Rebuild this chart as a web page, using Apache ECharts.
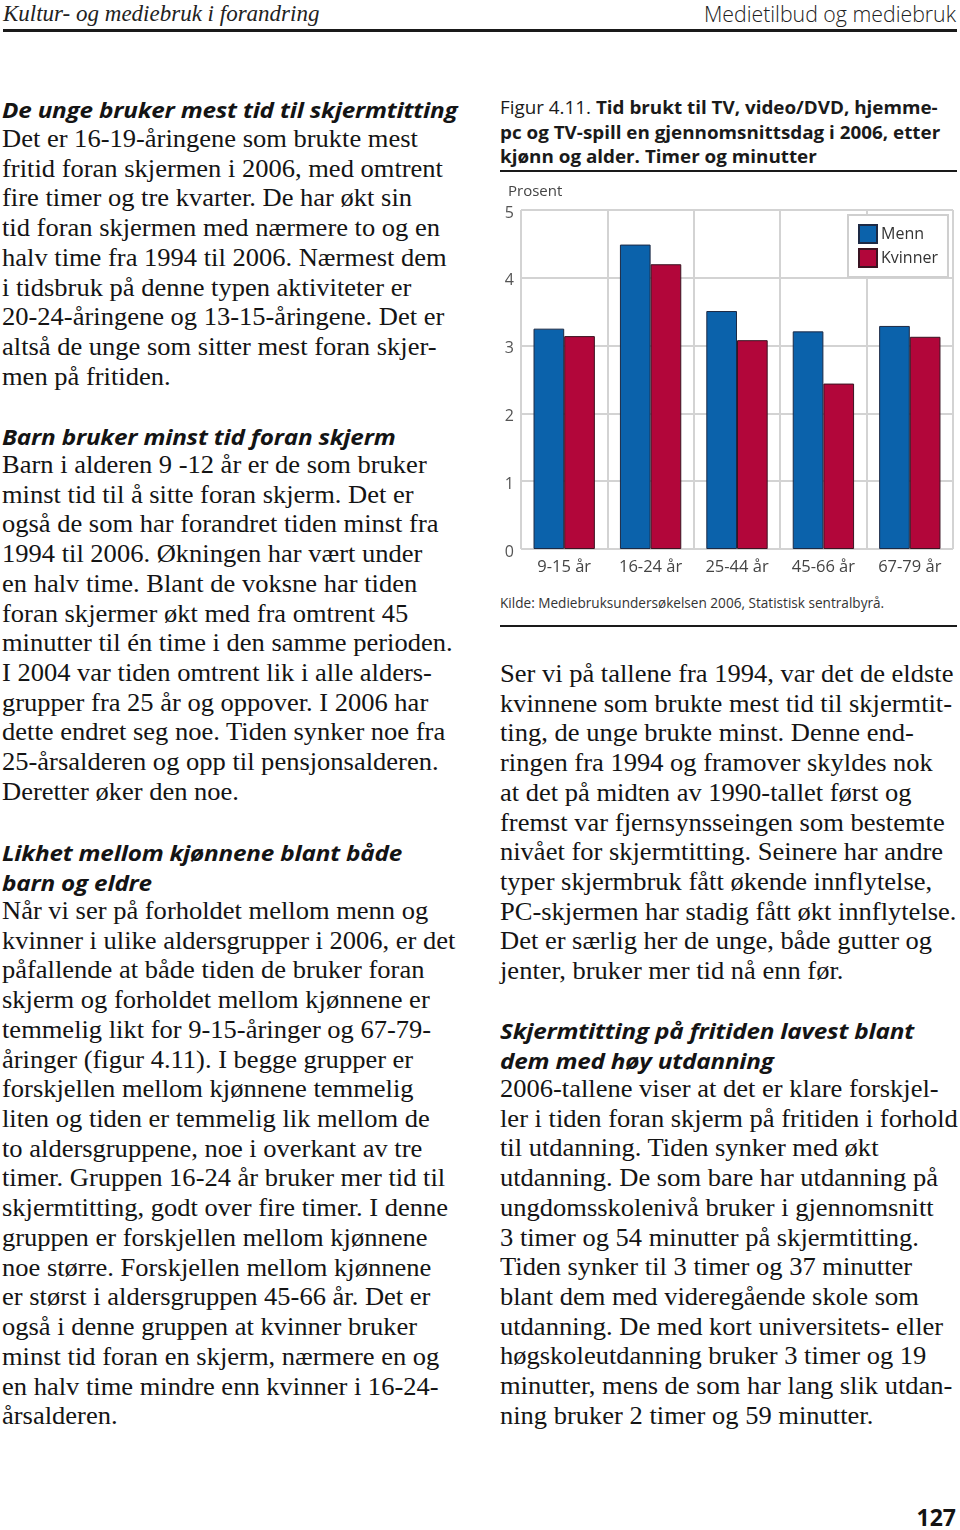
<!DOCTYPE html>
<html><head><meta charset="utf-8">
<script src="https://cdn.jsdelivr.net/npm/echarts@6/dist/echarts.min.js"></script>
<style>
html,body{margin:0;padding:0;background:#fff;}
body{width:960px;height:1530px;position:relative;overflow:hidden;color:#141414;}
.ln{position:absolute;white-space:nowrap;height:30px;line-height:30px;transform-origin:0 50%;}
.body{font-family:"Liberation Serif",serif;font-size:24.5px;transform:scaleX(1.082);}
.hd{font-family:"Open Sans","Noto Sans",sans-serif;font-weight:700;font-style:italic;font-size:22px;letter-spacing:-0.2px;transform:scaleX(1.105);}
.rule{position:absolute;background:#1a1a1a;}
#hdrL{position:absolute;left:3px;top:0;font-family:"Liberation Serif",serif;font-style:italic;font-size:23px;line-height:28px;color:#222;}
#hdrR{position:absolute;right:4px;top:0;font-family:"Open Sans",sans-serif;font-weight:300;font-size:21.3px;line-height:28px;color:#222;}
.ct{position:absolute;left:500px;white-space:nowrap;font-family:"Open Sans","Noto Sans",sans-serif;font-size:18.3px;line-height:24px;font-weight:700;color:#1a1a1a;transform-origin:0 50%;transform:scaleX(1.03);}
.ct .lt{font-weight:400;}
#kilde{position:absolute;left:500px;top:593px;font-family:"Open Sans",sans-serif;font-size:13.6px;color:#333;white-space:nowrap;}
#pg{position:absolute;right:4px;top:1503px;font-family:"Open Sans",sans-serif;font-weight:700;font-size:23px;line-height:28px;}
#chart{position:absolute;left:495px;top:175px;width:465px;height:415px;}
</style></head>
<body>
<div id="hdrL">Kultur- og mediebruk i forandring</div>
<div id="hdrR">Medietilbud og mediebruk</div>
<div class="rule" style="left:3px;top:29px;width:954px;height:3px;"></div>

<div class="ct" style="top:95px;"><span class="lt">Figur 4.11. </span>Tid brukt til TV, video/DVD, hjemme-</div>
<div class="ct" style="top:120px;">pc og TV-spill en gjennomsnittsdag i 2006, etter</div>
<div class="ct" style="top:144px;">kjønn og alder. Timer og minutter</div>
<div class="rule" style="left:500px;top:170px;width:457px;height:2px;"></div>
<div id="chart"></div>
<div id="kilde">Kilde: Mediebruksundersøkelsen 2006, Statistisk sentralbyrå.</div>
<div class="rule" style="left:500px;top:625px;width:457px;height:2px;"></div>
<div id="pg">127</div>

<script>
// ---- Chart data ----
const categories = ["9-15 år", "16-24 år", "25-44 år", "45-66 år", "67-79 år"];
const menn = [3.25, 4.49, 3.51, 3.21, 3.29];
const kvinner = [3.14, 4.20, 3.08, 2.44, 3.13];
const seriesNames = ["Menn", "Kvinner"];
const yTicks = [0, 1, 2, 3, 4, 5];
const yAxisTitle = "Prosent";

// ---- Page text ----
const blockA_head = ["De unge bruker mest tid til skjermtitting"];
const blockA_body = [
"Det er 16-19-åringene som brukte mest",
"fritid foran skjermen i 2006, med omtrent",
"fire timer og tre kvarter. De har økt sin",
"tid foran skjermen med nærmere to og en",
"halv time fra 1994 til 2006. Nærmest dem",
"i tidsbruk på denne typen aktiviteter er",
"20-24-åringene og 13-15-åringene. Det er",
"altså de unge som sitter mest foran skjer-",
"men på fritiden."];
const blockB_head = ["Barn bruker minst tid foran skjerm"];
const blockB_body = [
"Barn i alderen 9 -12 år er de som bruker",
"minst tid til å sitte foran skjerm. Det er",
"også de som har forandret tiden minst fra",
"1994 til 2006. Økningen har vært under",
"en halv time. Blant de voksne har tiden",
"foran skjermer økt med fra omtrent 45",
"minutter til én time i den samme perioden.",
"I 2004 var tiden omtrent lik i alle alders-",
"grupper fra 25 år og oppover. I 2006 har",
"dette endret seg noe. Tiden synker noe fra",
"25-årsalderen og opp til pensjonsalderen.",
"Deretter øker den noe."];
const blockC_head = ["Likhet mellom kjønnene blant både", "barn og eldre"];
const blockC_body = [
"Når vi ser på forholdet mellom menn og",
"kvinner i ulike aldersgrupper i 2006, er det",
"påfallende at både tiden de bruker foran",
"skjerm og forholdet mellom kjønnene er",
"temmelig likt for 9-15-åringer og 67-79-",
"åringer (figur 4.11). I begge grupper er",
"forskjellen mellom kjønnene temmelig",
"liten og tiden er temmelig lik mellom de",
"to aldersgruppene, noe i overkant av tre",
"timer. Gruppen 16-24 år bruker mer tid til",
"skjermtitting, godt over fire timer. I denne",
"gruppen er forskjellen mellom kjønnene",
"noe større. Forskjellen mellom kjønnene",
"er størst i aldersgruppen 45-66 år. Det er",
"også i denne gruppen at kvinner bruker",
"minst tid foran en skjerm, nærmere en og",
"en halv time mindre enn kvinner i 16-24-",
"årsalderen."];
const blockD_body = [
"Ser vi på tallene fra 1994, var det de eldste",
"kvinnene som brukte mest tid til skjermtit-",
"ting, de unge brukte minst. Denne end-",
"ringen fra 1994 og framover skyldes nok",
"at det på midten av 1990-tallet først og",
"fremst var fjernsynsseingen som bestemte",
"nivået for skjermtitting. Seinere har andre",
"typer skjermbruk fått økende innflytelse,",
"PC-skjermen har stadig fått økt innflytelse.",
"Det er særlig her de unge, både gutter og",
"jenter, bruker mer tid nå enn før."];
const blockE_head = ["Skjermtitting på fritiden lavest blant", "dem med høy utdanning"];
const blockE_body = [
"2006-tallene viser at det er klare forskjel-",
"ler i tiden foran skjerm på fritiden i forhold",
"til utdanning. Tiden synker med økt",
"utdanning. De som bare har utdanning på",
"ungdomsskolenivå bruker i gjennomsnitt",
"3 timer og 54 minutter på skjermtitting.",
"Tiden synker til 3 timer og 37 minutter",
"blant dem med videregående skole som",
"utdanning. De med kort universitets- eller",
"høgskoleutdanning bruker 3 timer og 19",
"minutter, mens de som har lang slik utdan-",
"ning bruker 2 timer og 59 minutter."];

const PITCH = 29.72;
function place(x, yCenter, lines, cls) {
  lines.forEach((t, i) => {
    const d = document.createElement('div');
    d.className = 'ln ' + cls;
    d.style.left = x + 'px';
    d.style.top = (yCenter + i * PITCH - 15) + 'px';
    d.textContent = t;
    document.body.appendChild(d);
  });
}
place(2, 109, blockA_head, 'hd');
place(2, 139, blockA_body, 'body');
place(2, 436, blockB_head, 'hd');
place(2, 465, blockB_body, 'body');
place(2, 852, blockC_head, 'hd');
place(2, 911, blockC_body, 'body');
place(500, 674, blockD_body, 'body');
place(500, 1030, blockE_head, 'hd');
place(500, 1089, blockE_body, 'body');

// ---- Chart ----
const chart = echarts.init(document.getElementById('chart'), null, {renderer: 'canvas'});
const gridCol = '#d3d3d3';
chart.setOption({
  animation: false,
  textStyle: {fontFamily: '"Open Sans", sans-serif'},
  graphic: [{
    type: 'text', left: 13, top: 9,
    style: {text: yAxisTitle, fontSize: 15, fill: '#444', fontFamily: '"Open Sans", sans-serif'}
  }],
  legend: {
    data: seriesNames, orient: 'vertical', left: 353, top: 40,
    backgroundColor: '#fff', borderColor: '#cfcfcf', borderWidth: 2,
    padding: [9, 10, 9, 10], itemWidth: 18, itemHeight: 18, itemGap: 4,
    icon: 'rect',
    textStyle: {fontSize: 16, color: '#333', padding: [0, 0, 0, -1]}
  },
  grid: {left: 26, top: 35, right: 7, bottom: 41, containLabel: false},
  xAxis: {
    type: 'category', data: categories,
    axisLine: {show: false}, axisTick: {show: false},
    axisLabel: {fontSize: 16.5, color: '#444', margin: 10},
    splitLine: {show: true, lineStyle: {color: gridCol, width: 2}}
  },
  yAxis: {
    type: 'value', min: yTicks[0], max: yTicks[yTicks.length - 1], interval: 1,
    axisLine: {show: false}, axisTick: {show: false},
    axisLabel: {fontSize: 16, color: '#555', margin: 7, align: 'right', verticalAlign: 'top', lineHeight: 6},
    splitLine: {show: true, lineStyle: {color: gridCol, width: 2}}
  },
  series: [
    {name: seriesNames[0], type: 'bar', data: menn, barGap: '0%', barCategoryGap: '29%',
     itemStyle: {color: '#0b62ab', borderColor: '#1d2a45', borderWidth: 1}},
    {name: seriesNames[1], type: 'bar', data: kvinner, barGap: '0%', barCategoryGap: '29%',
     itemStyle: {color: '#b2063a', borderColor: '#3a1422', borderWidth: 1}}
  ]
});
</script>
</body></html>
